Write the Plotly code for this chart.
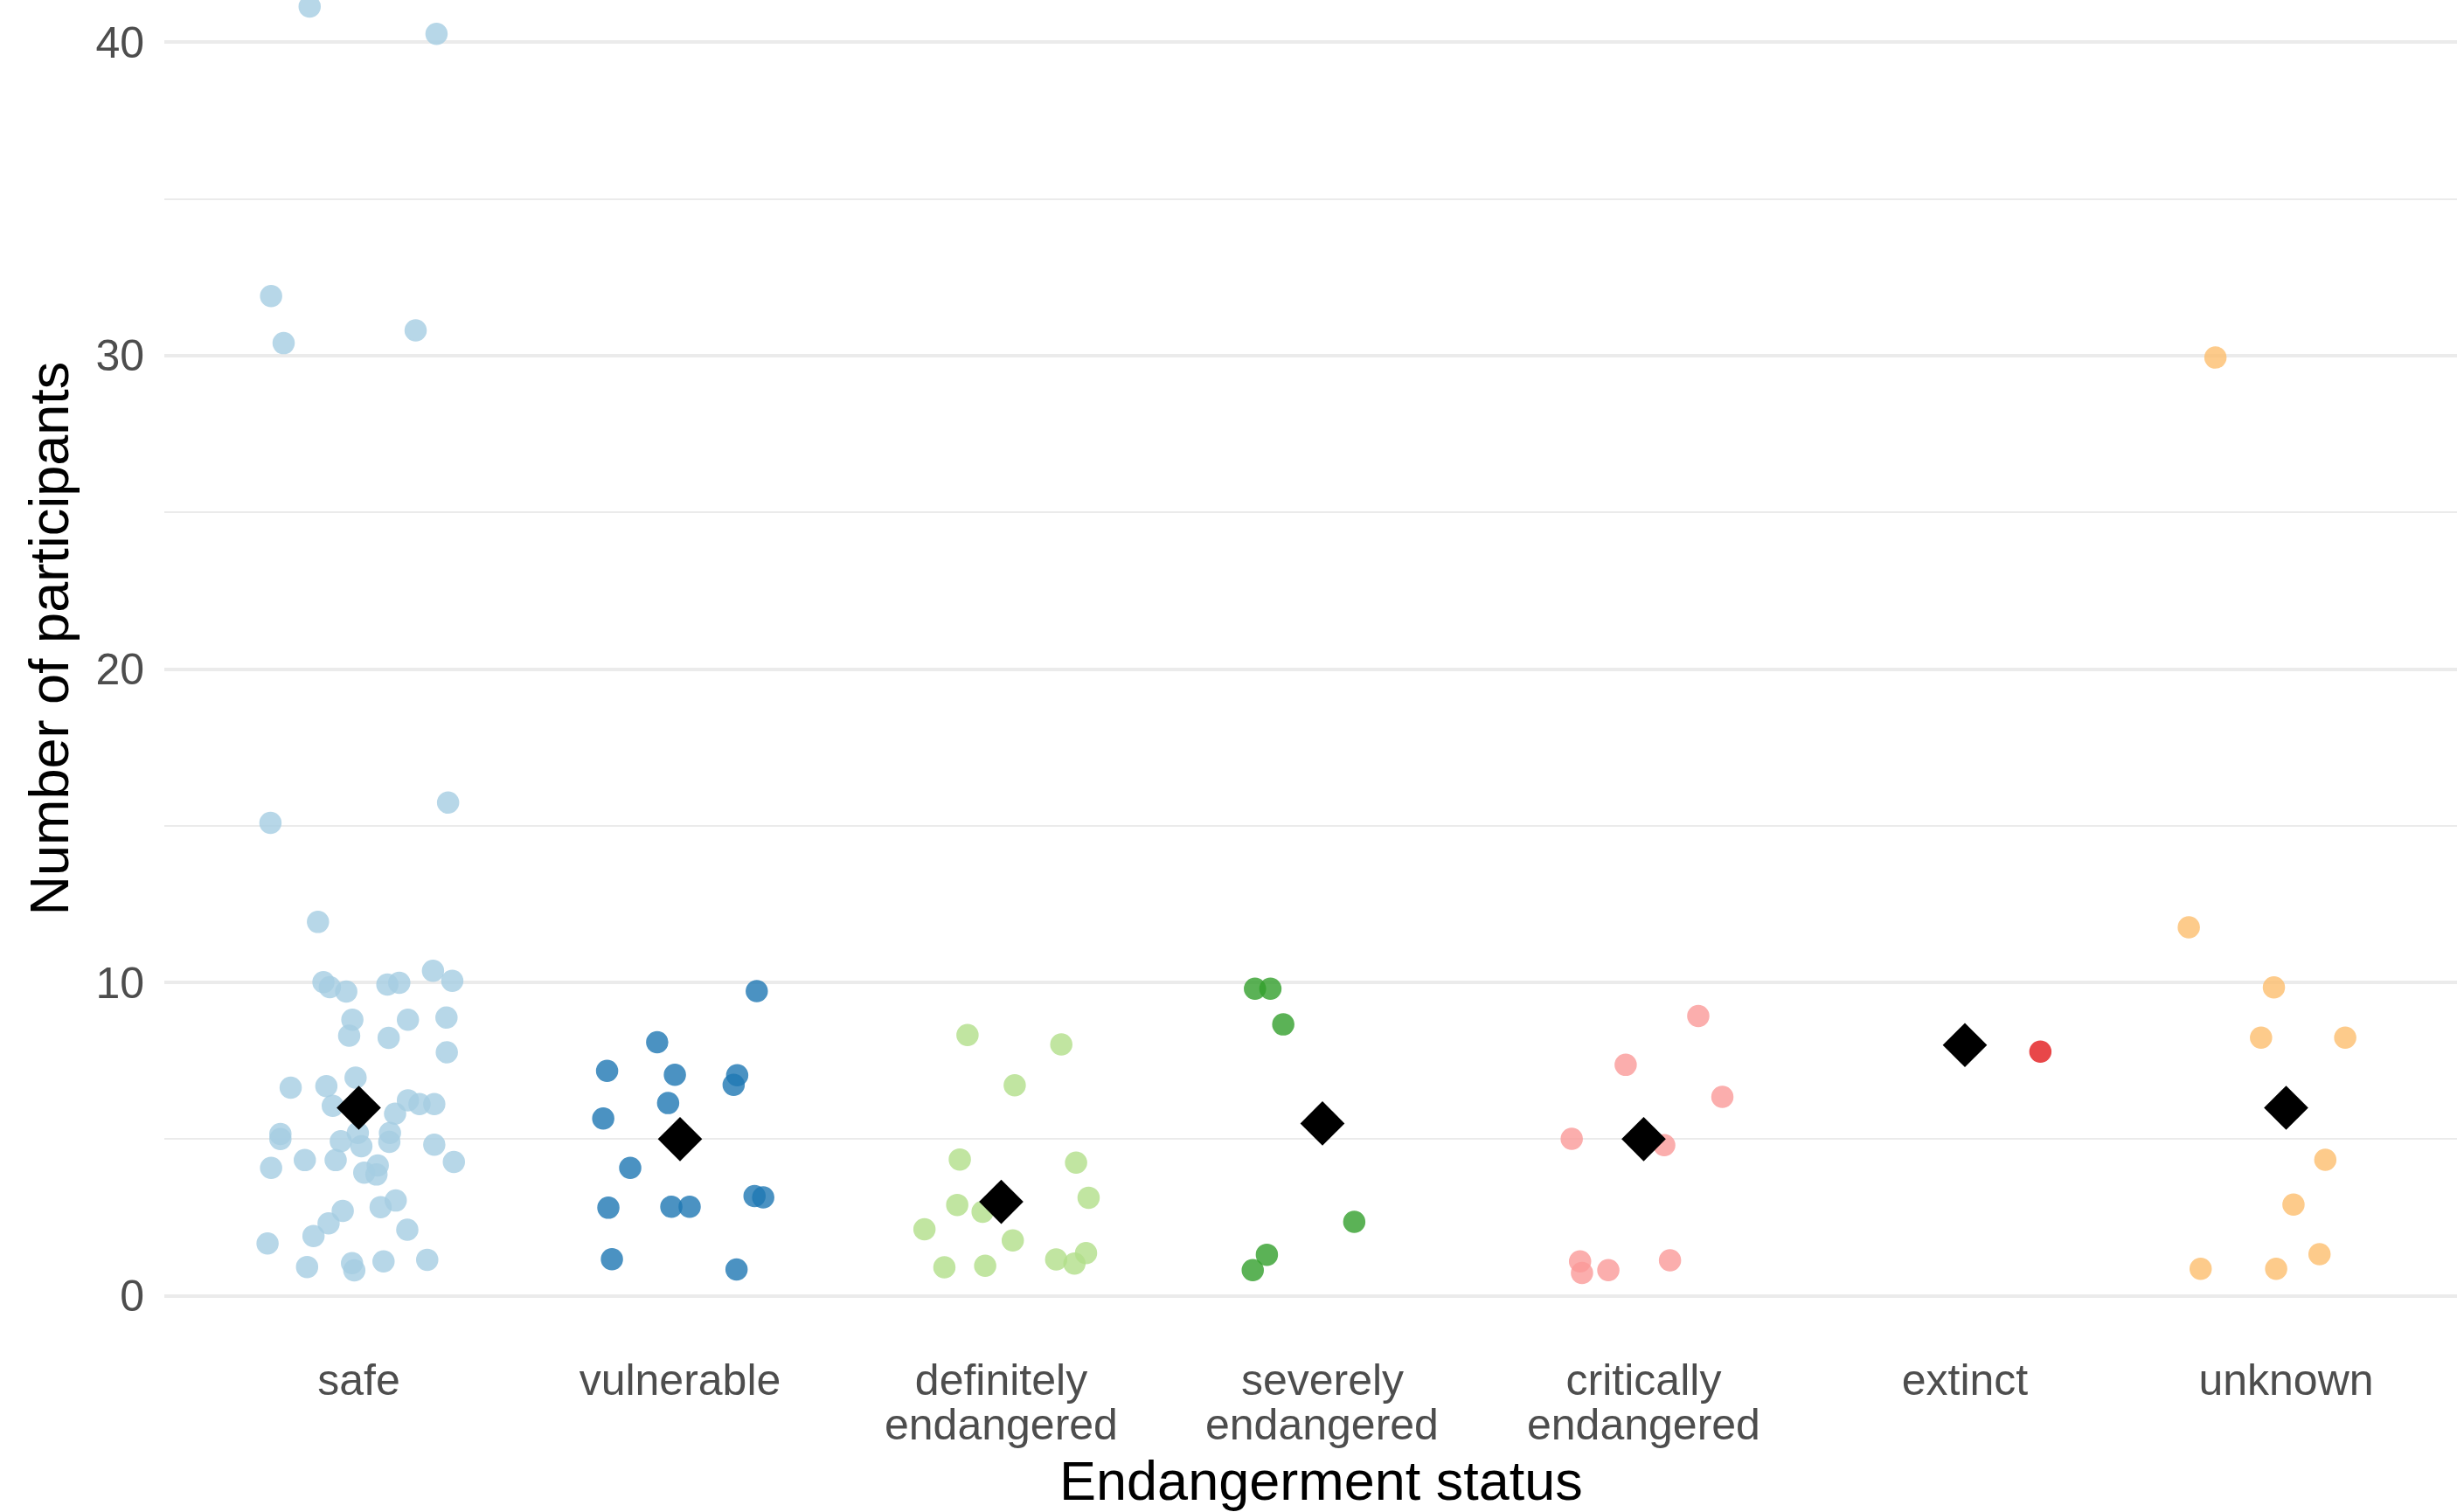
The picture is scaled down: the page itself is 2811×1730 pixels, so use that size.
import plotly.graph_objects as go

# Endangerment categories (x axis order); second word goes on its own line
categories = ["safe", "vulnerable", "definitely\nendangered", "severely\nendangered",
              "critically\nendangered", "extinct", "unknown"]

# Number of participants per study, grouped by endangerment status (jittered values)
safe_y = [15.09, 15.74, 11.93, 10.01, 9.85, 9.71, 9.93, 9.99, 10.37, 10.05,
          8.81, 8.30, 8.81, 8.23, 8.88, 7.77, 6.64, 6.69, 6.96, 6.06,
          6.24, 6.12, 6.12, 5.81, 5.16, 5.00, 4.93, 5.20, 4.77, 5.20,
          4.91, 4.82, 4.08, 4.33, 4.33, 4.27, 3.93, 4.16, 3.87, 2.71,
          2.31, 1.91, 2.83, 3.04, 2.11, 1.67, 0.92, 1.04, 0.81, 1.10,
          1.15, 41.14, 40.27, 31.90, 30.40, 30.81]
safe_jitter = [-0.275, 0.278, -0.127, -0.110, -0.090, -0.039, 0.089, 0.126, 0.231, 0.291,
               -0.020, -0.030, 0.153, 0.093, 0.273, 0.274, -0.212, -0.101, -0.010, -0.081,
               0.153, 0.189, 0.235, 0.113, -0.244, -0.244, -0.056, -0.003, 0.008, 0.097,
               0.095, 0.235, -0.273, -0.168, -0.072, 0.296, 0.017, 0.059, 0.055, -0.050,
               -0.094, -0.141, 0.068, 0.115, 0.151, -0.284, -0.161, -0.021, -0.014, 0.077,
               0.213, -0.153, 0.242, -0.273, -0.234, 0.177]

vulnerable_y = [9.72, 8.09, 7.18, 7.05, 7.04, 6.73, 6.15, 5.66, 4.08, 2.81,
                2.84, 2.84, 3.18, 3.14, 1.17, 0.84]
vulnerable_jitter = [0.239, -0.071, -0.227, -0.016, 0.178, 0.167, -0.037, -0.239, -0.155, -0.223,
                     -0.027, 0.030, 0.232, 0.259, -0.212, 0.176]

definitely_y = [8.32, 8.02, 6.72, 4.35, 4.25, 2.90, 2.68, 3.13, 2.12, 1.77,
                0.91, 0.96, 1.16, 1.03, 1.36]
definitely_jitter = [-0.105, 0.187, 0.042, -0.129, 0.233, -0.137, -0.058, 0.272, -0.239, 0.036,
                     -0.177, -0.050, 0.171, 0.228, 0.264]

severely_y = [9.80, 9.80, 8.66, 2.36, 1.31, 0.82]
severely_jitter = [-0.210, -0.162, -0.122, 0.099, -0.173, -0.217]

critically_y = [8.93, 7.37, 6.35, 5.01, 4.81, 1.10, 0.73, 0.82, 1.13]
critically_jitter = [0.170, -0.056, 0.245, -0.224, 0.064, -0.198, -0.192, -0.110, 0.082]

extinct_y = [7.79]
extinct_jitter = [0.235]

unknown_y = [29.94, 11.76, 9.84, 8.24, 8.24, 4.34, 2.91, 1.33, 0.86, 0.86]
unknown_jitter = [-0.220, -0.303, -0.038, -0.078, 0.184, 0.122, 0.023, 0.104, -0.266, -0.031]

# Median number of participants per category
medians = [6, 5, 3, 5.5, 5, 8, 6]

# Colour per category (ColorBrewer "Paired")
colors = ["#A6CEE3", "#1F78B4", "#B2DF8A", "#33A02C", "#FB9A99", "#E31A1C", "#FDBF6F"]

y_tick_vals = [0, 10, 20, 30, 40]

groups_y = [safe_y, vulnerable_y, definitely_y, severely_y, critically_y, extinct_y, unknown_y]
groups_jitter = [safe_jitter, vulnerable_jitter, definitely_jitter, severely_jitter,
                 critically_jitter, extinct_jitter, unknown_jitter]

FONT = "Liberation Sans, Arial, Helvetica, sans-serif"
TICK_GREY = "#4d4d4d"

fig = go.Figure()

for i, (ys, jit, col) in enumerate(zip(groups_y, groups_jitter, colors)):
    fig.add_trace(go.Scatter(
        x=[i + j for j in jit],
        y=ys,
        mode="markers",
        marker=dict(size=24, color=col, opacity=0.8, line=dict(width=1.5, color=col)),
        showlegend=False,
        hoverinfo="y",
    ))

fig.add_trace(go.Scatter(
    x=list(range(len(categories))),
    y=medians,
    mode="markers",
    marker=dict(symbol="diamond", size=39, color="black", line=dict(width=0)),
    showlegend=False,
))

W, H = 2811, 1730
L, B = 188, 204
plot_h = H - B
plot_w = W - L

first_lines = [c.split("\n")[0] for c in categories]

annotations = [
    dict(text="Endangerment status", xref="paper", yref="paper",
         x=(1511 - L) / plot_w, y=(plot_h - 1694) / plot_h,
         xanchor="center", yanchor="middle", showarrow=False,
         font=dict(size=63, color="black", family=FONT)),
    dict(text="Number of participants", xref="paper", yref="paper",
         x=(56 - L) / plot_w, y=1 - 730.5 / plot_h, textangle=-90,
         xanchor="center", yanchor="middle", showarrow=False,
         font=dict(size=63, color="black", family=FONT)),
]

# Second line of the two-word category labels, set with a tight line height
for i, c in enumerate(categories):
    parts = c.split("\n")
    if len(parts) > 1:
        annotations.append(dict(
            text=parts[1], xref="x", yref="paper", x=i,
            y=(plot_h - 1630) / plot_h, xanchor="center", yanchor="middle",
            showarrow=False, font=dict(size=50, color=TICK_GREY, family=FONT)))

fig.update_layout(
    width=W, height=H,
    margin=dict(l=L, r=0, t=0, b=B, autoexpand=False),
    plot_bgcolor="white", paper_bgcolor="white",
    font=dict(family=FONT, color=TICK_GREY, size=50),
    xaxis=dict(
        range=[-0.6054, 6.532],
        tickvals=list(range(len(categories))),
        ticktext=first_lines,
        showgrid=False, zeroline=False, showline=False,
        ticks="", ticklabelstandoff=19,
        tickfont=dict(size=50, color=TICK_GREY, family=FONT),
        automargin=False,
    ),
    yaxis=dict(
        range=[-1.21, 41.35],
        tickvals=y_tick_vals,
        showgrid=True, gridcolor="#ebebeb", gridwidth=3.6,
        minor=dict(dtick=5, tick0=0, showgrid=True, gridcolor="#ebebeb", gridwidth=1.8),
        zeroline=False, showline=False,
        ticks="", ticklabelstandoff=22,
        tickfont=dict(size=50, color=TICK_GREY, family=FONT),
        automargin=False,
    ),
    annotations=annotations,
)

fig.write_html("out.html")
